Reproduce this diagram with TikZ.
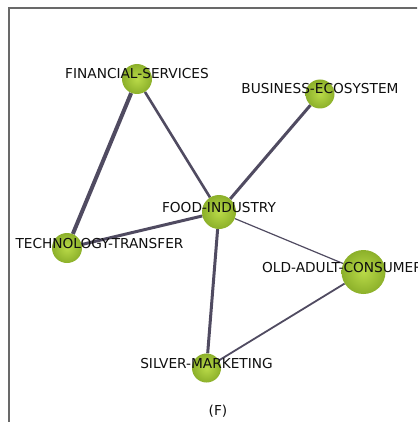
\documentclass[tikz,border=0pt]{standalone}
\usepackage{fontspec}
\setmainfont{DejaVu Sans}
\usetikzlibrary{backgrounds}

\definecolor{edgecol}{RGB}{80,75,97}
\definecolor{ballin}{RGB}{185,218,72}
\definecolor{ballout}{RGB}{140,176,42}
\definecolor{framecol}{RGB}{105,105,105}
\definecolor{labelcol}{RGB}{15,15,15}

\begin{document}
\begin{tikzpicture}[
            x=1pt, y=-1pt,
            topic/.style={circle, inner sep=0pt, minimum size=#1, shading=radial,
                inner color=ballin, outer color=ballout},
            link/.style={draw=edgecol, line width=#1},
            tag/.style={text=labelcol, inner sep=0pt, font=\fontsize{13.7}{16}\selectfont},
        ]
            \useasboundingbox (0,0) rectangle (417,422);
            \clip (0,0) rectangle (417,422);

            \draw[framecol, line width=1.4pt] (9,423) -- (9,8) -- (418,8);

            % topics
            \node[topic=30pt] (fin) at (137,79) {};
            \node[topic=29pt] (bus) at (320,94) {};
            \node[topic=34pt] (food) at (219,212) {};
            \node[topic=30pt] (tech) at (67,248) {};
            \node[topic=44pt] (old) at (363.5,272) {};
            \node[topic=29pt] (silver) at (206.5,368) {};

            % links
            \begin{pgfonlayer}{background}
                \draw[link=4pt] (fin) -- (tech);
                \draw[link=2.6pt] (fin) -- (food);
                \draw[link=3pt] (bus) -- (food);
                \draw[link=3pt] (food) -- (tech);
                \draw[link=3pt] (food) -- (silver);
                \draw[link=1.2pt] (food) -- (old);
                \draw[link=1.8pt] (old) -- (silver);
            \end{pgfonlayer}

            % labels
            \node[tag] (finlabel) at (137,74) {FINANCIAL-SERVICES};
            \node[tag] (buslabel) at (320,89) {BUSINESS-ECOSYSTEM};
            \node[tag] (foodlabel) at (219,207.5) {FOOD-INDUSTRY};
            \node[tag] (techlabel) at (99.5,244) {TECHNOLOGY-TRANSFER};
            \node[tag, anchor=west] (oldlabel) at (262,268) {OLD-ADULT-CONSUMER};
            \node[tag] (silverlabel) at (206.5,363.5) {SILVER-MARKETING};
            \node[tag] (caption) at (218,411) {(F)};
        \end{tikzpicture}
\end{document}
